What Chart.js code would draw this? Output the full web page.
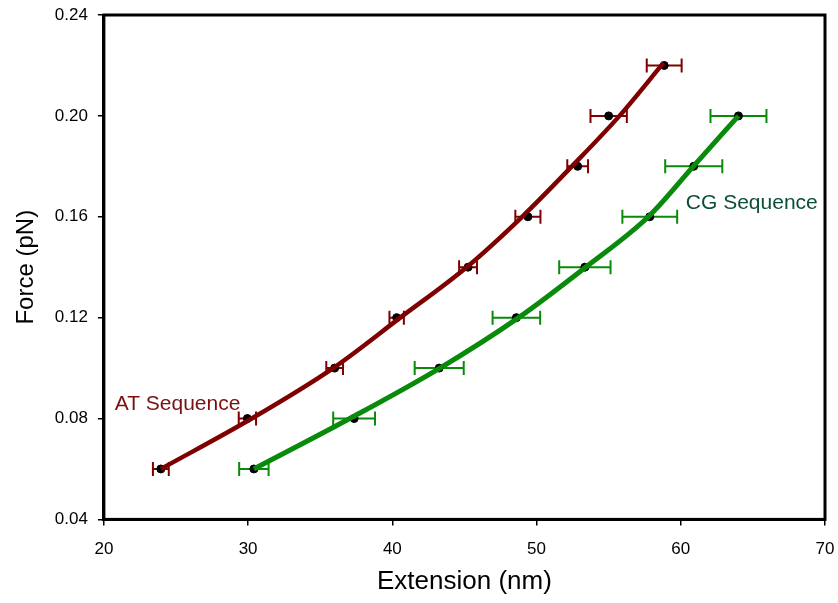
<!DOCTYPE html>
<html>
<head>
<meta charset="utf-8">
<script src="https://cdn.jsdelivr.net/npm/chart.js@4/dist/chart.umd.min.js"></script>
<style>
  html, body { margin: 0; padding: 0; background: #fff; }
  #wrap { width: 838px; height: 603px; }
</style>
</head>
<body>
<div id="wrap"><canvas id="c" width="838" height="603"></canvas></div>
<script>
// Measured force levels (pN)
const forceAT = [0.06, 0.08, 0.10, 0.12, 0.14, 0.16, 0.18, 0.20, 0.22];
const forceCG = [0.06, 0.08, 0.10, 0.12, 0.14, 0.16, 0.18, 0.20];

// Mean extension (nm) and its error
const extAT = [23.95, 29.95, 36.0, 40.3, 45.25, 49.4, 52.85, 55.0, 58.85];
const errAT = [0.55, 0.6, 0.58, 0.5, 0.62, 0.87, 0.72, 1.26, 1.21];
const extCG = [30.4, 37.35, 43.25, 48.6, 53.35, 57.85, 60.9, 64.0];
const errCG = [1.02, 1.45, 1.7, 1.65, 1.78, 1.9, 1.98, 1.94];

// Fitted curve samples (extension nm, force pN)
const fitExtAT = [23.95, 30.25, 35.9, 40.55, 45.15, 49.0, 52.45, 55.75, 58.8];
const fitForceAT = [0.06, 0.08, 0.10, 0.12, 0.14, 0.16, 0.18, 0.20, 0.221];
const fitExtCG = [30.4, 37.05, 43.3, 48.75, 53.4, 57.75, 60.87, 64.0];
const fitForceCG = [0.06, 0.08, 0.10, 0.12, 0.14, 0.16, 0.18, 0.20];

const xTicks = [20, 30, 40, 50, 60, 70];
const yTicks = [0.04, 0.08, 0.12, 0.16, 0.20, 0.24];

const AT_COLOR = '#7f0000';
const CG_COLOR = '#0a8a0a';
const FONT = '"Liberation Sans", Arial, sans-serif';

const pts = (xs, ys) => xs.map((x, i) => ({ x: x, y: ys[i] }));

// Horizontal error bars, frame and series labels
const extras = {
  id: 'extras',
  beforeDatasetsDraw(chart) {
    const { ctx, scales: { x, y } } = chart;
    const bars = (xs, ys, es, color) => {
      ctx.save();
      ctx.strokeStyle = color;
      ctx.lineWidth = 2;
      xs.forEach((v, i) => {
        const x0 = x.getPixelForValue(v - es[i]);
        const x1 = x.getPixelForValue(v + es[i]);
        const py = y.getPixelForValue(ys[i]);
        ctx.beginPath();
        ctx.moveTo(x0, py); ctx.lineTo(x1, py);
        ctx.moveTo(x0, py - 7); ctx.lineTo(x0, py + 7);
        ctx.moveTo(x1, py - 7); ctx.lineTo(x1, py + 7);
        ctx.stroke();
      });
      ctx.restore();
    };
    bars(extAT, forceAT, errAT, AT_COLOR);
    bars(extCG, forceCG, errCG, CG_COLOR);
  },
  afterDraw(chart) {
    const { ctx, chartArea: a, scales: { x, y } } = chart;
    ctx.save();
    ctx.strokeStyle = '#000';
    ctx.lineWidth = 3;
    ctx.strokeRect(a.left, a.top, a.right - a.left, a.bottom - a.top);
    ctx.font = '21px ' + FONT;
    ctx.textBaseline = 'middle';
    ctx.textAlign = 'left';
    ctx.fillStyle = '#7a1010';
    ctx.fillText('AT Sequence', x.getPixelForValue(20.75), y.getPixelForValue(0.0855));
    ctx.fillStyle = '#0c4d3c';
    ctx.fillText('CG Sequence', x.getPixelForValue(60.35), y.getPixelForValue(0.1655));
    ctx.restore();
  }
};

new Chart(document.getElementById('c'), {
  type: 'scatter',
  data: {
    datasets: [
      {
        label: 'AT fit',
        data: pts(fitExtAT, fitForceAT),
        showLine: true,
        borderColor: AT_COLOR,
        borderWidth: 4.5,
        pointRadius: 0,
        cubicInterpolationMode: 'monotone',
        order: 0
      },
      {
        label: 'CG fit',
        data: pts(fitExtCG, fitForceCG),
        showLine: true,
        borderColor: CG_COLOR,
        borderWidth: 5,
        pointRadius: 0,
        cubicInterpolationMode: 'monotone',
        order: 0
      },
      {
        label: 'AT Sequence',
        data: pts(extAT, forceAT),
        pointRadius: 4,
        pointBackgroundColor: '#000',
        pointBorderColor: '#000',
        order: 1
      },
      {
        label: 'CG Sequence',
        data: pts(extCG, forceCG),
        pointRadius: 4,
        pointBackgroundColor: '#000',
        pointBorderColor: '#000',
        order: 1
      }
    ]
  },
  options: {
    responsive: false,
    animation: false,
    devicePixelRatio: 1,
    layout: { padding: { left: 12, right: 0, top: 0, bottom: 6 } },
    plugins: {
      legend: { display: false },
      tooltip: { enabled: false }
    },
    scales: {
      x: {
        type: 'linear',
        min: 20, max: 70,
        afterBuildTicks: s => { s.ticks = xTicks.map(v => ({ value: v })); },
        afterFit: s => { s.paddingRight = 13; },
        ticks: {
          color: '#000',
          padding: 14,
          font: { family: FONT, size: 17 },
          callback: v => String(v)
        },
        grid: { drawOnChartArea: false, drawTicks: true, tickLength: 6, color: '#000', lineWidth: 1.5 },
        border: { color: '#000', width: 3 },
        title: {
          display: true,
          text: 'Extension (nm)',
          color: '#000',
          font: { family: FONT, size: 26 },
          padding: { top: -8, bottom: 0 }
        }
      },
      y: {
        type: 'linear',
        min: 0.04, max: 0.24,
        afterBuildTicks: s => { s.ticks = yTicks.map(v => ({ value: v })); },
        afterFit: s => { s.paddingTop = 15; },
        ticks: {
          color: '#000',
          padding: 10,
          font: { family: FONT, size: 17 },
          callback: v => Number(v).toFixed(2)
        },
        grid: { drawOnChartArea: false, drawTicks: true, tickLength: 6, color: '#000', lineWidth: 1.5 },
        border: { color: '#000', width: 3 },
        title: {
          display: true,
          text: 'Force (pN)',
          color: '#000',
          font: { family: FONT, size: 24 },
          padding: { top: 0, bottom: 4 }
        }
      }
    }
  },
  plugins: [extras]
});
</script>
</body>
</html>
